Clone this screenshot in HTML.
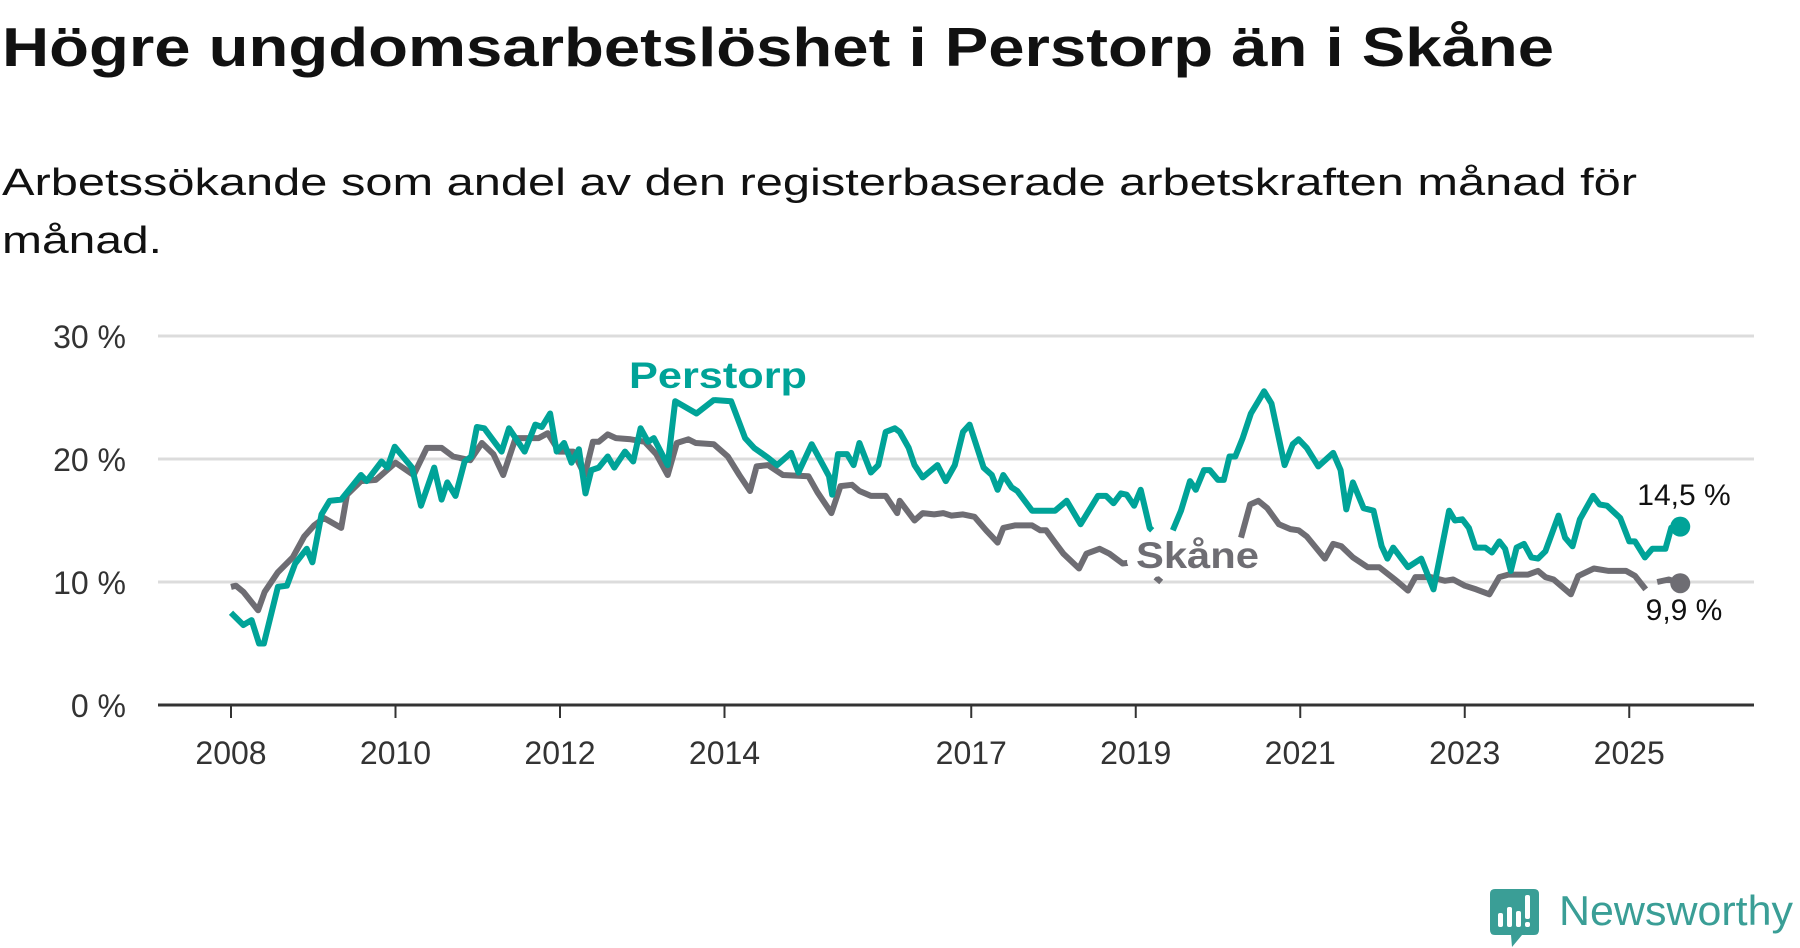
<!DOCTYPE html>
<html><head><meta charset="utf-8"><style>
html,body{margin:0;padding:0;background:#fff;}
svg{display:block;font-family:"Liberation Sans","DejaVu Sans",sans-serif;}
</style></head><body>
<svg id="chart" width="1800" height="948" viewBox="0 0 1800 948" xmlns="http://www.w3.org/2000/svg">
<text x="2" y="66" font-size="55" font-weight="bold" fill="#111" textLength="1552" lengthAdjust="spacingAndGlyphs">Högre ungdomsarbetslöshet i Perstorp än i Skåne</text>
<text x="2" y="195" font-size="38" fill="#111" textLength="1635" lengthAdjust="spacingAndGlyphs">Arbetssökande som andel av den registerbaserade arbetskraften månad för</text>
<text x="2" y="253" font-size="38" fill="#111" textLength="160" lengthAdjust="spacingAndGlyphs">månad.</text>
<g id="grid"></g>
<g id="yticks"></g>
<g id="xticks"></g>
<g id="series"></g>
<g id="labels"></g>
<g>
 <path d="M1495 889 H1534 Q1539 889 1539 894 V930 Q1539 935 1534 935 H1522 L1512 947 L1511 935 H1495 Q1490 935 1490 930 V894 Q1490 889 1495 889 Z" fill="#3a9e96"/>
 <rect x="1498" y="913" width="5" height="14" rx="2" fill="#fff"/>
 <rect x="1507" y="907" width="5" height="20" rx="2" fill="#fff"/>
 <rect x="1516" y="911" width="5" height="16" rx="2" fill="#fff"/>
 <rect x="1525" y="895" width="5" height="24" rx="2" fill="#fff"/>
 <rect x="1525" y="922" width="5" height="5" rx="2" fill="#fff"/>
 <text x="1559" y="925" font-size="42" fill="#3a9e96" textLength="234" lengthAdjust="spacingAndGlyphs">Newsworthy</text>
</g>
</svg>
<script>
const yTicks=[0,10,20,30];
const yTickLabels=["0 %","10 %","20 %","30 %"];
const xTicks=[2008,2010,2012,2014,2017,2019,2021,2023,2025];
const perstorpDates=[2008.0,2008.15,2008.25,2008.34,2008.4,2008.57,2008.68,2008.78,2008.92,2008.99,2009.1,2009.2,2009.34,2009.58,2009.65,2009.83,2009.9,2009.99,2010.2,2010.31,2010.47,2010.56,2010.63,2010.73,2010.84,2010.92,2010.99,2011.08,2011.29,2011.38,2011.57,2011.7,2011.78,2011.88,2011.96,2012.05,2012.14,2012.23,2012.31,2012.38,2012.47,2012.58,2012.66,2012.79,2012.89,2012.98,2013.07,2013.14,2013.31,2013.4,2013.66,2013.87,2014.08,2014.25,2014.36,2014.53,2014.64,2014.81,2014.9,2015.06,2015.27,2015.31,2015.38,2015.49,2015.57,2015.64,2015.78,2015.87,2015.96,2016.07,2016.13,2016.24,2016.31,2016.41,2016.59,2016.69,2016.8,2016.9,2016.98,2017.15,2017.25,2017.32,2017.39,2017.49,2017.56,2017.74,2018.02,2018.16,2018.33,2018.54,2018.64,2018.73,2018.82,2018.89,2018.98,2019.06,2019.17,2019.2,2019.3,2019.45,2019.55,2019.66,2019.73,2019.83,2019.9,2020.0,2020.07,2020.14,2020.21,2020.3,2020.4,2020.49,2020.56,2020.65,2020.81,2020.91,2020.98,2021.08,2021.22,2021.4,2021.49,2021.56,2021.64,2021.77,2021.89,2021.99,2022.06,2022.13,2022.31,2022.47,2022.62,2022.81,2022.88,2022.97,2023.05,2023.13,2023.25,2023.33,2023.42,2023.49,2023.56,2023.63,2023.72,2023.81,2023.89,2023.98,2024.14,2024.22,2024.31,2024.4,2024.56,2024.64,2024.73,2024.89,2025.0,2025.07,2025.19,2025.28,2025.44,2025.51,2025.62];
const perstorpValues=[7.5,6.5,6.9,5.0,5.0,9.6,9.7,11.5,12.7,11.6,15.5,16.6,16.7,18.7,18.2,19.8,19.3,21.0,19.3,16.2,19.3,16.7,18.1,17.0,19.8,20.2,22.6,22.5,20.6,22.5,20.6,22.8,22.6,23.7,20.6,21.3,19.7,20.8,17.2,19.1,19.3,20.2,19.3,20.6,19.8,22.5,21.4,21.7,19.5,24.7,23.7,24.8,24.7,21.7,20.9,20.1,19.5,20.5,18.9,21.2,18.6,17.1,20.4,20.4,19.5,21.3,18.9,19.5,22.2,22.5,22.2,20.9,19.5,18.5,19.5,18.2,19.5,22.2,22.8,19.3,18.7,17.5,18.7,17.7,17.4,15.8,15.8,16.6,14.7,17.0,17.0,16.4,17.2,17.1,16.2,17.5,14.4,14.2,null,14.2,15.8,18.2,17.5,19.1,19.1,18.3,18.3,20.2,20.2,21.7,23.7,24.7,25.5,24.5,19.5,21.2,21.6,20.9,19.4,20.5,19.1,15.9,18.1,16.0,15.8,12.9,11.9,12.8,11.2,11.9,9.4,15.8,15.0,15.1,14.4,12.8,12.8,12.4,13.3,12.7,10.9,12.8,13.1,12.0,11.9,12.5,15.4,13.6,12.9,15.1,17.0,16.3,16.2,15.2,13.3,13.3,12.0,12.7,12.7,14.4,14.5];
const skaneDates=[2008.0,2008.06,2008.15,2008.33,2008.41,2008.57,2008.75,2008.89,2009.01,2009.13,2009.34,2009.41,2009.58,2009.76,2010.0,2010.22,2010.38,2010.56,2010.7,2010.91,2011.05,2011.19,2011.31,2011.46,2011.74,2011.85,2011.99,2012.16,2012.3,2012.4,2012.47,2012.58,2012.68,2012.86,2013.03,2013.17,2013.31,2013.42,2013.56,2013.65,2013.87,2014.04,2014.18,2014.31,2014.39,2014.53,2014.71,2015.02,2015.13,2015.3,2015.41,2015.55,2015.64,2015.78,2015.96,2016.1,2016.13,2016.31,2016.41,2016.55,2016.66,2016.76,2016.9,2017.04,2017.18,2017.32,2017.39,2017.53,2017.74,2017.84,2017.91,2018.02,2018.12,2018.31,2018.4,2018.56,2018.68,2018.84,2018.96,2019.05,2019.24,2019.31,2019.8,2020.28,2020.39,2020.49,2020.6,2020.74,2020.88,2020.98,2021.08,2021.3,2021.4,2021.5,2021.64,2021.82,2021.96,2022.17,2022.31,2022.4,2022.59,2022.76,2022.86,2023.0,2023.14,2023.3,2023.42,2023.53,2023.77,2023.89,2023.98,2024.08,2024.29,2024.38,2024.57,2024.75,2024.96,2025.07,2025.2,2025.27,2025.34,2025.48,2025.62];
const skaneValues=[9.6,9.7,9.2,7.7,9.2,10.8,12.0,13.7,14.6,15.2,14.4,17.1,18.2,18.3,19.7,18.7,20.9,20.9,20.2,19.9,21.3,20.4,18.7,21.7,21.7,22.1,20.6,20.6,18.7,21.4,21.4,22.0,21.7,21.6,21.4,20.4,18.7,21.3,21.6,21.3,21.2,20.2,18.7,17.4,19.4,19.5,18.7,18.6,17.3,15.6,17.8,17.9,17.4,17.0,17.0,15.6,16.6,15.0,15.6,15.5,15.6,15.4,15.5,15.3,14.2,13.2,14.4,14.6,14.6,14.2,14.2,13.2,12.3,11.1,12.3,12.7,12.3,11.5,11.6,null,10.4,10.0,null,13.6,16.3,16.6,16.0,14.7,14.3,14.2,13.7,11.9,13.1,12.9,12.0,11.2,11.2,10.1,9.3,10.4,10.4,10.1,10.2,9.7,9.4,9.0,10.4,10.6,10.6,10.9,10.4,10.2,9.0,10.5,11.1,10.9,10.9,10.5,9.4,null,10.0,10.2,9.9];

const NS='http://www.w3.org/2000/svg';
const X0=231, PXY=82.25, Y0=705, PXV=12.3, XL=158, XR=1754;
const xs=t=>X0+(t-2008)*PXY;
const ys=v=>Y0-v*PXV;
function mk(tag,attrs,parent){const e=document.createElementNS(NS,tag);for(const k in attrs)e.setAttribute(k,attrs[k]);parent.appendChild(e);return e;}
const grid=document.getElementById('grid'),yt=document.getElementById('yticks'),xt=document.getElementById('xticks'),ser=document.getElementById('series'),lab=document.getElementById('labels');
yTicks.forEach((v,i)=>{
  if(v>0){const g=mk('line',{x1:XL,x2:XR,y1:ys(v),y2:ys(v),stroke:'#dcdcdc','stroke-width':3},grid);
  
  }
  const t=mk('text',{x:126,y:ys(v)+12,'font-size':32,fill:'#333','text-anchor':'end'},yt);
  
  
  t.textContent=yTickLabels[i];
});
const ax=mk('line',{x1:XL,x2:XR,y1:Y0,y2:Y0,stroke:'#333','stroke-width':3},xt);


xTicks.forEach(y=>{
  const tk=mk('line',{x1:xs(y),x2:xs(y),y1:Y0,y2:Y0+13,stroke:'#333','stroke-width':2},xt);
  
  
  const t=mk('text',{x:xs(y),y:764,'font-size':32,fill:'#333','text-anchor':'middle'},xt);
  
  
  t.textContent=y;
});
function path(dates,vals){let d='',pen=false;for(let i=0;i<dates.length;i++){if(vals[i]==null){pen=false;continue;}d+=(pen?'L':'M')+xs(dates[i]).toFixed(1)+' '+ys(vals[i]).toFixed(1);pen=true;}return d;}
const sk=mk('path',{d:path(skaneDates,skaneValues),fill:'none',stroke:'#6e6d73','stroke-width':6,'stroke-linejoin':'round'},ser);


const pe=mk('path',{d:path(perstorpDates,perstorpValues),fill:'none',stroke:'#00a398','stroke-width':6,'stroke-linejoin':'round'},ser);


const lp=perstorpValues.length-1, ls=skaneValues.length-1;
const d1=mk('circle',{cx:xs(perstorpDates[lp]),cy:ys(perstorpValues[lp]),r:10,fill:'#00a398'},ser);


const d2=mk('circle',{cx:xs(skaneDates[ls]),cy:ys(skaneValues[ls]),r:10,fill:'#6e6d73'},ser);


const halo={stroke:'#fff','stroke-width':18,'paint-order':'stroke','stroke-linejoin':'round'};
const l1=mk('text',Object.assign({x:629,y:388,'font-size':37,'font-weight':'bold',fill:'#00a398',textLength:178,lengthAdjust:'spacingAndGlyphs'},halo),lab);


l1.textContent='Perstorp';
const l2=mk('text',Object.assign({x:1136,y:568,'font-size':37,'font-weight':'bold',fill:'#6e6d73',textLength:123,lengthAdjust:'spacingAndGlyphs'},halo),lab);


l2.textContent='Skåne';
const v1=mk('text',{x:1684,y:505,'font-size':30,fill:'#111','text-anchor':'middle'},lab);


v1.textContent='14,5 %';
const v2=mk('text',{x:1684,y:620,'font-size':30,fill:'#111','text-anchor':'middle'},lab);


v2.textContent='9,9 %';
</script>
</body></html>
